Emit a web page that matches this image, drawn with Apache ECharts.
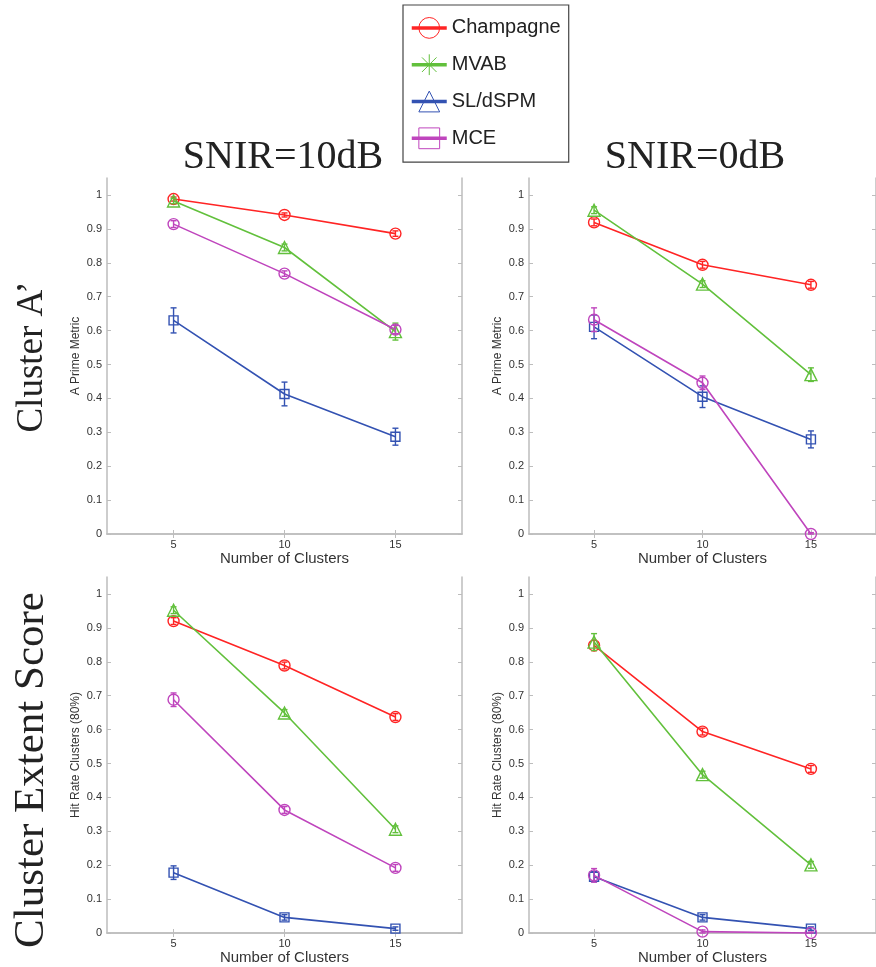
<!DOCTYPE html>
<html>
<head>
<meta charset="utf-8">
<script src="https://cdn.jsdelivr.net/npm/echarts@6/dist/echarts.min.js"></script>
<style>html,body{margin:0;padding:0;background:#fff}#c{width:876px;height:967px}</style>
</head>
<body>
<div id="c"></div>
<script>
// ---- data ----
const methods = ['Champagne', 'MVAB', 'SL/dSPM', 'MCE'];
const clusters = [5, 10, 15];
const xTicks = [5, 10, 15];
const yTicks = [0, 0.1, 0.2, 0.3, 0.4, 0.5, 0.6, 0.7, 0.8, 0.9, 1];
const colTitles = ['SNIR=10dB', 'SNIR=0dB'];
const rowTitles = ['Cluster A’', 'Cluster Extent Score'];
const yNames = ['A Prime Metric', 'Hit Rate Clusters (80%)'];
const xName = 'Number of Clusters';

// panel 0: Cluster A', SNIR=10dB
const aprime10_champ = [0.988, 0.941, 0.886];
const aprime10_mvab  = [0.982, 0.845, 0.597];
const aprime10_sl    = [0.630, 0.413, 0.287];
const aprime10_mce   = [0.914, 0.768, 0.603];
const aprime10_champErr = [0.006, 0.006, 0.008];
const aprime10_mvabErr  = [0.008, 0.010, 0.025];
const aprime10_slErr    = [0.037, 0.035, 0.025];
const aprime10_mceErr   = [0.010, 0.008, 0.012];
// panel 1: Cluster A', SNIR=0dB
const aprime0_champ = [0.919, 0.794, 0.735];
const aprime0_mvab  = [0.955, 0.737, 0.470];
const aprime0_sl    = [0.611, 0.405, 0.279];
const aprime0_mce   = [0.632, 0.446, 0.000];
const aprime0_champErr = [0.010, 0.010, 0.010];
const aprime0_mvabErr  = [0.010, 0.010, 0.020];
const aprime0_slErr    = [0.035, 0.032, 0.025];
const aprime0_mceErr   = [0.035, 0.020, 0.004];
// panel 2: Cluster Extent Score, SNIR=10dB
const hit10_champ = [0.920, 0.789, 0.637];
const hit10_mvab  = [0.952, 0.649, 0.306];
const hit10_sl    = [0.178, 0.046, 0.013];
const hit10_mce   = [0.688, 0.363, 0.192];
const hit10_champErr = [0.010, 0.010, 0.010];
const hit10_mvabErr  = [0.010, 0.010, 0.010];
const hit10_slErr    = [0.020, 0.008, 0.005];
const hit10_mceErr   = [0.020, 0.010, 0.010];
// panel 3: Cluster Extent Score, SNIR=0dB
const hit0_champ = [0.848, 0.594, 0.484];
const hit0_mvab  = [0.858, 0.467, 0.201];
const hit0_sl    = [0.166, 0.046, 0.013];
const hit0_mce   = [0.170, 0.004, 0.000];
const hit0_champErr = [0.015, 0.010, 0.010];
const hit0_mvabErr  = [0.025, 0.010, 0.010];
const hit0_slErr    = [0.015, 0.008, 0.005];
const hit0_mceErr   = [0.020, 0.005, 0.003];

const panels = [
  {vals: [aprime10_champ, aprime10_mvab, aprime10_sl, aprime10_mce], errs: [aprime10_champErr, aprime10_mvabErr, aprime10_slErr, aprime10_mceErr]},
  {vals: [aprime0_champ, aprime0_mvab, aprime0_sl, aprime0_mce], errs: [aprime0_champErr, aprime0_mvabErr, aprime0_slErr, aprime0_mceErr]},
  {vals: [hit10_champ, hit10_mvab, hit10_sl, hit10_mce], errs: [hit10_champErr, hit10_mvabErr, hit10_slErr, hit10_mceErr]},
  {vals: [hit0_champ, hit0_mvab, hit0_sl, hit0_mce], errs: [hit0_champErr, hit0_mvabErr, hit0_slErr, hit0_mceErr]}
];

// ---- styles ----
const colors = ['#ff2424', '#62c03c', '#3352b2', '#bf45bd'];
const plotSymbols = ['circle', 'triangle', 'rect', 'circle'];
const plotSizes = [11, 12, 9, 11];
const starPath = 'path://M10,0L10,20M0,10L20,10M3,3L17,17M3,17L17,3';
const legendSymbols = ['circle', starPath, 'triangle', 'rect'];
const axisColor = '#bdbdbd';
const textColor = '#333';
const sans = 'Liberation Sans, Arial, Helvetica, sans-serif';
const serif = 'Liberation Serif, Times New Roman, serif';

const grids = [
  {left: 107, top: 178, width: 355, height: 356},
  {left: 529, top: 178, width: 354, height: 356},
  {left: 107, top: 577, width: 355, height: 356},
  {left: 529, top: 577, width: 354, height: 356}
];

const xAxes = [], yAxes = [], series = [];
grids.forEach((g, gi) => {
  const row = Math.floor(gi / 2);
  xAxes.push({
    gridIndex: gi, type: 'value', min: 2, max: 18, position: 'bottom',
    name: xName, nameLocation: 'middle', nameGap: 11,
    nameTextStyle: {fontFamily: sans, fontSize: 15, color: textColor},
    axisLine: {show: true, lineStyle: {color: axisColor, width: 1.5}},
    axisTick: {show: true, inside: true, length: 4, customValues: xTicks, lineStyle: {color: axisColor}},
    axisLabel: {show: true, customValues: xTicks, margin: 5, fontFamily: sans, fontSize: 11, color: textColor},
    splitLine: {show: false}
  });
  xAxes.push({
    gridIndex: gi, type: 'value', min: 2, max: 18, position: 'top',
    axisLine: {show: true, lineStyle: {color: axisColor, width: 1.5}},
    axisTick: {show: true, inside: true, length: 4, customValues: xTicks, lineStyle: {color: axisColor}},
    axisLabel: {show: false},
    splitLine: {show: false}
  });
  yAxes.push({
    gridIndex: gi, type: 'value', min: 0, max: 1.05, position: 'left',
    name: yNames[row], nameLocation: 'middle', nameGap: 25, nameRotate: 90,
    nameTextStyle: {fontFamily: sans, fontSize: 12, color: textColor},
    axisLine: {show: true, lineStyle: {color: axisColor, width: 1.5}},
    axisTick: {show: true, inside: true, length: 4, customValues: yTicks, lineStyle: {color: axisColor}},
    axisLabel: {show: true, customValues: yTicks, margin: 5, fontFamily: sans, fontSize: 11, color: textColor,
      formatter: v => String(Math.round(v * 10) / 10)},
    splitLine: {show: false}
  });
  yAxes.push({
    gridIndex: gi, type: 'value', min: 0, max: 1.05, position: 'right',
    axisLine: {show: true, lineStyle: {color: axisColor, width: 1.5}},
    axisTick: {show: true, inside: true, length: 4, customValues: yTicks, lineStyle: {color: axisColor}},
    axisLabel: {show: false},
    splitLine: {show: false}
  });
});

// dummy series used only for the legend icons
methods.forEach((m, mi) => {
  series.push({
    name: m, type: 'line', xAxisIndex: 0, yAxisIndex: 0, data: [],
    symbol: legendSymbols[mi], symbolSize: 10,
    lineStyle: {color: colors[mi], width: 3},
    itemStyle: {color: 'transparent', borderColor: colors[mi], borderWidth: 1}
  });
});

panels.forEach((p, gi) => {
  p.vals.forEach((vals, mi) => {
    const c = colors[mi];
    series.push({
      name: methods[mi], type: 'line', xAxisIndex: 2 * gi, yAxisIndex: 2 * gi,
      data: clusters.map((x, i) => [x, vals[i]]),
      symbol: plotSymbols[mi], symbolSize: plotSizes[mi], showAllSymbol: true,
      lineStyle: {color: c, width: 1.6},
      itemStyle: {color: 'transparent', borderColor: c, borderWidth: 1.4},
      emphasis: {disabled: true}, animation: false, z: 3 + mi, clip: false
    });
    series.push({
      name: methods[mi], type: 'custom', xAxisIndex: 2 * gi, yAxisIndex: 2 * gi,
      data: clusters.map((x, i) => [x, vals[i], p.errs[mi][i]]),
      silent: true, animation: false, z: 3 + mi,
      renderItem: (params, api) => {
        const x = api.value(0), y = api.value(1), e = api.value(2);
        const lo = api.coord([x, Math.max(0, y - e)]);
        const hi = api.coord([x, y + e]);
        const w = 3;
        const st = {stroke: c, lineWidth: 1.4};
        return {type: 'group', children: [
          {type: 'line', shape: {x1: lo[0], y1: lo[1], x2: hi[0], y2: hi[1]}, style: st},
          {type: 'line', shape: {x1: lo[0] - w, y1: lo[1], x2: lo[0] + w, y2: lo[1]}, style: st},
          {type: 'line', shape: {x1: hi[0] - w, y1: hi[1], x2: hi[0] + w, y2: hi[1]}, style: st}
        ]};
      }
    });
  });
});

const graphics = [
  {type: 'text', x: 283, y: 157, style: {text: colTitles[0], font: '40px ' + serif, fill: '#222', textAlign: 'center', textVerticalAlign: 'middle'}},
  {type: 'text', x: 695, y: 157, style: {text: colTitles[1], font: '40px ' + serif, fill: '#222', textAlign: 'center', textVerticalAlign: 'middle'}},
  {type: 'text', x: 32, y: 357, rotation: Math.PI / 2, style: {text: rowTitles[0], font: '37px ' + serif, fill: '#222', textAlign: 'center', textVerticalAlign: 'middle'}},
  {type: 'text', x: 32, y: 770, rotation: Math.PI / 2, style: {text: rowTitles[1], font: '43px ' + serif, fill: '#222', textAlign: 'center', textVerticalAlign: 'middle'}}
];

const chart = echarts.init(document.getElementById('c'), null, {renderer: 'canvas'});
chart.setOption({
  backgroundColor: '#fff',
  animation: false,
  grid: grids,
  xAxis: xAxes,
  yAxis: yAxes,
  legend: {
    orient: 'vertical', left: 403, top: 5,
    padding: [12, 8, 13, 7], itemGap: 15, itemWidth: 35, itemHeight: 26,
    backgroundColor: '#fff', borderColor: '#444', borderWidth: 1.2, borderRadius: 0,
    selectedMode: false,
    textStyle: {fontFamily: sans, fontSize: 20, color: '#222'},
    data: methods.map((m, mi) => ({
      name: m,
      itemStyle: {color: 'transparent', borderColor: colors[mi], borderWidth: 1},
      lineStyle: {color: colors[mi], width: 3.5}
    }))
  },
  graphic: graphics,
  series: series
});
</script>
</body>
</html>
